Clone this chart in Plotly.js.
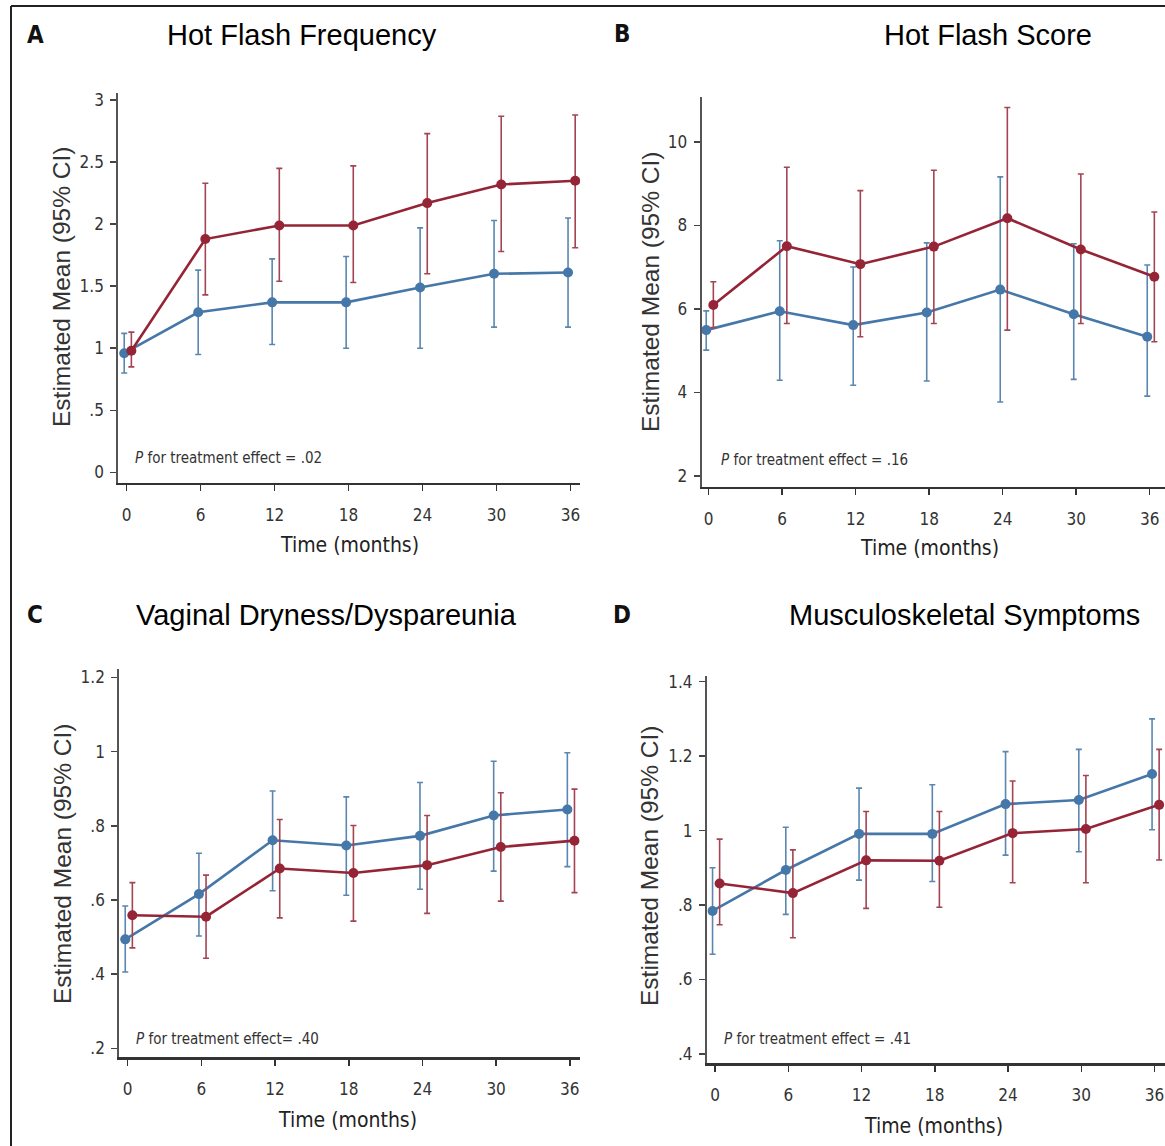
<!DOCTYPE html>
<html>
<head>
<meta charset="utf-8">
<script src="https://cdn.plot.ly/plotly-3.0.1.min.js"></script>
<style>html,body{margin:0;padding:0;background:#fff;}#chart{width:1165px;height:1146px;}</style>
</head>
<body>
<div id="chart"></div>
<script>
// ---------- data ----------
const months = [0, 6, 12, 18, 24, 30, 36];

// A: Hot Flash Frequency
const hffBlueMean = [0.96, 1.29, 1.37, 1.37, 1.49, 1.60, 1.61];
const hffBlueLo   = [0.80, 0.95, 1.03, 1.00, 1.00, 1.17, 1.17];
const hffBlueHi   = [1.12, 1.63, 1.72, 1.74, 1.97, 2.03, 2.05];
const hffRedMean  = [0.98, 1.88, 1.99, 1.99, 2.17, 2.32, 2.35];
const hffRedLo    = [0.85, 1.43, 1.54, 1.53, 1.60, 1.78, 1.81];
const hffRedHi    = [1.13, 2.33, 2.45, 2.47, 2.73, 2.87, 2.88];

// B: Hot Flash Score
const hfsBlueMean = [5.49, 5.94, 5.61, 5.91, 6.46, 5.87, 5.33];
const hfsBlueLo   = [5.01, 4.29, 4.17, 4.27, 3.77, 4.31, 3.91];
const hfsBlueHi   = [5.95, 7.63, 7.00, 7.58, 9.16, 7.56, 7.05];
const hfsRedMean  = [6.09, 7.50, 7.07, 7.49, 8.17, 7.42, 6.77];
const hfsRedLo    = [5.55, 5.65, 5.33, 5.65, 5.49, 5.65, 5.21];
const hfsRedHi    = [6.65, 9.39, 8.83, 9.32, 10.82, 9.23, 8.32];

// C: Vaginal Dryness/Dyspareunia
const vdBlueMean = [0.494, 0.616, 0.761, 0.747, 0.773, 0.828, 0.844];
const vdBlueLo   = [0.406, 0.503, 0.625, 0.613, 0.629, 0.678, 0.690];
const vdBlueHi   = [0.584, 0.726, 0.894, 0.878, 0.917, 0.974, 0.997];
const vdRedMean  = [0.559, 0.555, 0.685, 0.673, 0.694, 0.743, 0.760];
const vdRedLo    = [0.471, 0.443, 0.552, 0.543, 0.564, 0.597, 0.620];
const vdRedHi    = [0.647, 0.667, 0.817, 0.801, 0.828, 0.889, 0.899];

// D: Musculoskeletal Symptoms
const msBlueMean = [0.784, 0.894, 0.991, 0.991, 1.071, 1.082, 1.152];
const msBlueLo   = [0.668, 0.775, 0.867, 0.863, 0.934, 0.943, 1.002];
const msBlueHi   = [0.900, 1.009, 1.114, 1.123, 1.212, 1.218, 1.300];
const msRedMean  = [0.858, 0.832, 0.920, 0.919, 0.993, 1.004, 1.069];
const msRedLo    = [0.747, 0.712, 0.791, 0.794, 0.860, 0.860, 0.921];
const msRedHi    = [0.977, 0.948, 1.051, 1.051, 1.133, 1.148, 1.218];

// tick labels
const xTickText = ['0', '6', '12', '18', '24', '30', '36'];
const aTickVals = [0, 0.5, 1, 1.5, 2, 2.5, 3];
const aTickText = ['0', '.5', '1', '1.5', '2', '2.5', '3'];
const bTickVals = [2, 4, 6, 8, 10];
const bTickText = ['2', '4', '6', '8', '10'];
const cTickVals = [0.2, 0.4, 0.6, 0.8, 1, 1.2];
const cTickText = ['.2', '.4', '.6', '.8', '1', '1.2'];
const dTickVals = [0.4, 0.6, 0.8, 1, 1.2, 1.4];
const dTickText = ['.4', '.6', '.8', '1', '1.2', '1.4'];

const panelTitles = ['Hot Flash Frequency', 'Hot Flash Score', 'Vaginal Dryness/Dyspareunia', 'Musculoskeletal Symptoms'];
const panelLetters = ['A', 'B', 'C', 'D'];
const pTexts = ['<i>P</i> for treatment effect = .02', '<i>P</i> for treatment effect = .16',
                '<i>P</i> for treatment effect= .40', '<i>P</i> for treatment effect = .41'];
const xTitle = 'Time (months)';
const yTitle = 'Estimated Mean (95% CI)';

// ---------- styling / layout ----------
const W = 1165, H = 1146;
const fx = x => x / W;
const fy = y => 1 - y / H;
const BLUE = '#4577a8', RED = '#952536';
const BLUE_ERR = '#5a86b0', RED_ERR = '#a24452';
const blueOffset = -0.2, redOffset = 0.38;
const COND = 'DejaVu Sans Condensed, Liberation Sans Narrow, Arial Narrow, sans-serif';

function series(mean, lo, hi, color, errColor, off, ax, name) {
  return {
    type: 'scatter', mode: 'lines+markers', name: name, showlegend: false,
    x: months.map(m => m + off), y: mean,
    xaxis: 'x' + ax, yaxis: 'y' + ax,
    line: {color: color, width: 2.6},
    marker: {color: color, size: 10},
    error_y: {type: 'data', symmetric: false,
      array: hi.map((v, i) => v - mean[i]),
      arrayminus: mean.map((v, i) => v - lo[i]),
      color: errColor, thickness: 1.6, width: 3}
  };
}

const data = [
  series(hffBlueMean, hffBlueLo, hffBlueHi, BLUE, BLUE_ERR, blueOffset, '', 'Blue group'),
  series(hffRedMean, hffRedLo, hffRedHi, RED, RED_ERR, redOffset, '', 'Red group'),
  series(hfsBlueMean, hfsBlueLo, hfsBlueHi, BLUE, BLUE_ERR, blueOffset, '2', 'Blue group'),
  series(hfsRedMean, hfsRedLo, hfsRedHi, RED, RED_ERR, redOffset, '2', 'Red group'),
  series(vdBlueMean, vdBlueLo, vdBlueHi, BLUE, BLUE_ERR, blueOffset, '3', 'Blue group'),
  series(vdRedMean, vdRedLo, vdRedHi, RED, RED_ERR, redOffset, '3', 'Red group'),
  series(msBlueMean, msBlueLo, msBlueHi, BLUE, BLUE_ERR, blueOffset, '4', 'Blue group'),
  series(msRedMean, msRedLo, msRedHi, RED, RED_ERR, redOffset, '4', 'Red group')
];

const tickFont = {family: COND, size: 17, color: '#333'};

function xAx(dom, range, anchor) {
  return {domain: [fx(dom[0]), fx(dom[1])], range: range, anchor: anchor,
    tickvals: months, ticktext: xTickText, ticks: 'outside', ticklen: 6, tickwidth: 1.5,
    tickcolor: '#333', showline: true, linecolor: '#333', linewidth: 2.5,
    showgrid: false, zeroline: false, tickfont: tickFont, ticklabelstandoff: 9, fixedrange: true};
}
function yAx(dom, range, anchor, vals, text) {
  return {domain: [fy(dom[1]), fy(dom[0])], range: range, anchor: anchor,
    tickvals: vals, ticktext: text, ticks: 'outside', ticklen: 6, tickwidth: 1.5,
    tickcolor: '#444', showline: true, linecolor: '#555', linewidth: 2,
    showgrid: false, zeroline: false, tickfont: tickFont, ticklabelstandoff: 3, fixedrange: true};
}

const layout = {
  width: W, height: H,
  margin: {l: 0, r: 0, t: 0, b: 0},
  paper_bgcolor: '#fff', plot_bgcolor: '#fff',
  showlegend: false,
  xaxis:  xAx([118.3, 580], [-0.68, 36.77], 'y'),
  yaxis:  yAx([92.7, 482.7], [-0.084, 3.06], 'x', aTickVals, aTickText),
  xaxis2: xAx([701.7, 1165], [-0.57, 37.25], 'y2'),
  yaxis2: yAx([96.7, 486.7], [1.74, 11.08], 'x2', bTickVals, bTickText),
  xaxis3: xAx([119.3, 580], [-0.684, 36.83], 'y3'),
  yaxis3: yAx([669.3, 1057.3], [0.176, 1.222], 'x3', cTickVals, cTickText),
  xaxis4: xAx([706.9, 1165], [-0.663, 36.86], 'y4'),
  yaxis4: yAx([676, 1063.3], [0.375, 1.415], 'x4', dTickVals, dTickText),
  shapes: [
    {type: 'line', xref: 'paper', yref: 'paper', x0: fx(11), x1: fx(1165), y0: fy(6), y1: fy(6), line: {color: '#222', width: 2}},
    {type: 'line', xref: 'paper', yref: 'paper', x0: fx(11), x1: fx(11), y0: fy(6), y1: fy(1146), line: {color: '#222', width: 2}}
  ],
  annotations: []
};

const titlePos = [[302, 35], [988, 35], [326.5, 615], [964, 615]];
const letterPos = [[35, 35], [622, 34], [35, 615], [622, 615]];
const pPos = [[133, 458], [719, 460], [134, 1039], [722, 1039]];
const xTitlePos = [[349, 545], [929, 548], [347, 1120], [934, 1126]];
const yTitlePos = [[62, 287], [650, 291], [62, 864], [649, 866]];

function ann(x, y, text, font, extra) {
  return Object.assign({xref: 'paper', yref: 'paper', x: fx(x), y: fy(y), text: text,
    showarrow: false, xanchor: 'center', yanchor: 'middle', font: font}, extra || {});
}

for (let i = 0; i < 4; i++) {
  layout.annotations.push(ann(titlePos[i][0], titlePos[i][1], panelTitles[i],
    {family: 'Liberation Sans, Arial, sans-serif', size: 29, color: '#000'}));
  layout.annotations.push(ann(letterPos[i][0], letterPos[i][1], '<b>' + panelLetters[i] + '</b>',
    {family: COND, size: 24, color: '#111'}));
  layout.annotations.push(ann(pPos[i][0], pPos[i][1], pTexts[i],
    {family: COND, size: 15, color: '#333'}, {xanchor: 'left'}));
  layout.annotations.push(ann(xTitlePos[i][0], xTitlePos[i][1], xTitle,
    {family: COND, size: 21, color: '#222'}));
  layout.annotations.push(ann(yTitlePos[i][0], yTitlePos[i][1], yTitle,
    {family: 'Liberation Sans, Arial, sans-serif', size: 24.5, color: '#333'}, {textangle: -90}));
}

Plotly.newPlot('chart', data, layout, {staticPlot: true, displayModeBar: false});
</script>
</body>
</html>
